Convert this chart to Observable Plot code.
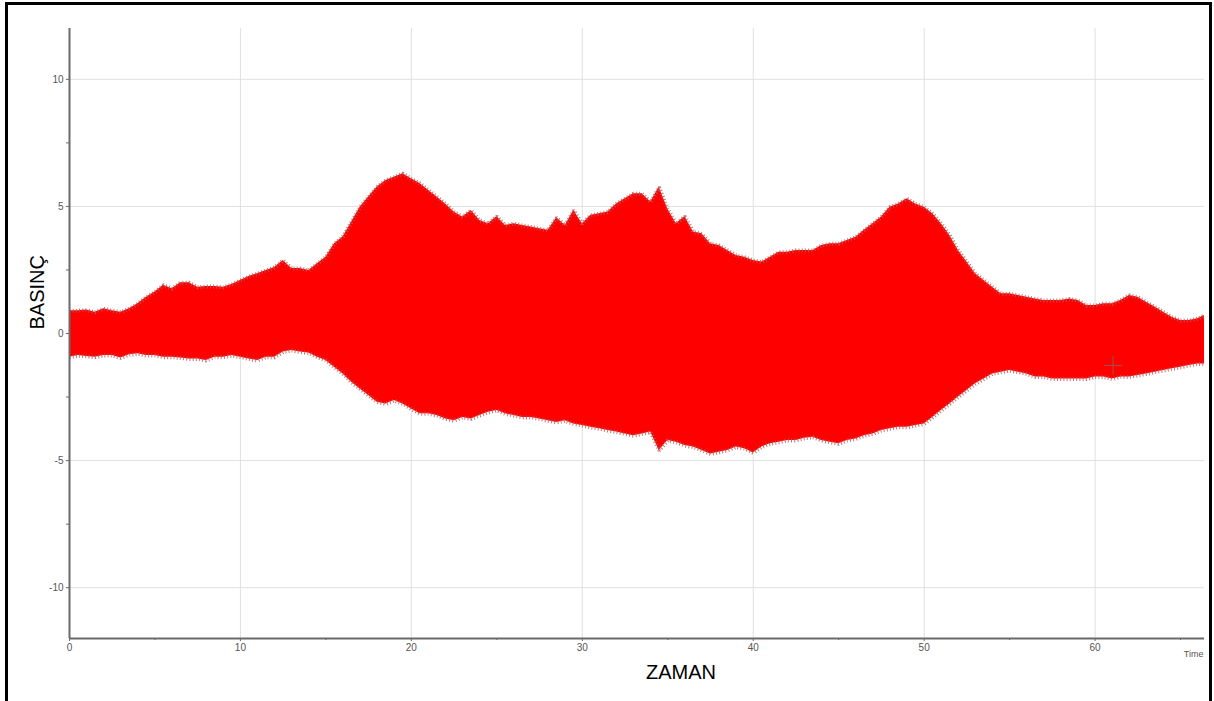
<!DOCTYPE html>
<html><head><meta charset="utf-8">
<script src="https://cdn.jsdelivr.net/npm/d3@7"></script>
<script src="https://cdn.jsdelivr.net/npm/@observablehq/plot@0.6"></script>
<style>
body{margin:0;background:#fff;width:1214px;height:701px;overflow:hidden;position:relative;font-family:"Liberation Sans",Arial,sans-serif}
#frame{position:absolute;left:5px;top:2px;width:1201px;height:760px;border:3px solid #000;border-bottom:none}
#chart{position:absolute;left:0;top:0}
</style></head><body><div id="frame"></div><div id="chart"></div>
<script>
// Time (s)
const times = [0,0.5,1,1.5,2,2.5,3,3.5,4,4.5,5,5.5,6,6.5,7,7.5,8,8.5,9,9.5,
10,10.5,11,11.5,12,12.5,13,13.5,14,14.5,15,15.5,16,16.5,17,17.5,18,18.5,19,19.5,
20,20.5,21,21.5,22,22.5,23,23.5,24,24.5,25,25.5,26,26.5,27,27.5,28,28.5,29,29.5,
30,30.5,31,31.5,32,32.5,33,33.5,34,34.5,35,35.5,36,36.5,37,37.5,38,38.5,39,39.5,
40,40.5,41,41.5,42,42.5,43,43.5,44,44.5,45,45.5,46,46.5,47,47.5,48,48.5,49,49.5,
50,50.5,51,51.5,52,52.5,53,53.5,54,54.5,55,55.5,56,56.5,57,57.5,58,58.5,59,59.5,
60,60.5,61,61.5,62,62.5,63,63.5,64,64.5,65,65.5,66,66.4];
// Upper envelope of pressure signal
const upper = [0.9,0.9,0.92,0.84,0.97,0.9,0.84,0.97,1.17,1.43,1.63,1.9,1.76,2.0,2.0,1.82,1.85,1.85,1.82,1.93,
2.09,2.24,2.35,2.48,2.6,2.87,2.56,2.56,2.48,2.74,3.0,3.53,3.8,4.38,4.97,5.37,5.76,6.02,6.15,6.29,
6.09,5.9,5.64,5.37,5.1,4.78,4.58,4.84,4.45,4.32,4.6,4.25,4.32,4.25,4.19,4.12,4.06,4.55,4.25,4.84,
4.32,4.65,4.71,4.78,5.1,5.3,5.5,5.5,5.17,5.75,4.9,4.32,4.6,3.99,3.92,3.53,3.46,3.27,3.07,3.0,
2.87,2.81,3.0,3.2,3.2,3.27,3.27,3.27,3.46,3.53,3.53,3.66,3.79,4.06,4.32,4.58,4.97,5.1,5.3,5.1,
4.97,4.71,4.32,3.86,3.27,2.81,2.35,2.09,1.82,1.56,1.56,1.5,1.43,1.36,1.3,1.3,1.3,1.36,1.3,1.1,
1.1,1.17,1.17,1.3,1.5,1.43,1.23,1.04,0.84,0.64,0.51,0.51,0.58,0.71];
// Lower envelope of pressure signal
const lower = [-0.93,-0.87,-0.9,-0.93,-0.87,-0.87,-0.96,-0.84,-0.8,-0.87,-0.87,-0.93,-0.93,-0.96,-1.0,-1.0,-1.06,-0.93,-0.93,-0.87,
-0.93,-1.0,-1.06,-0.93,-0.93,-0.73,-0.67,-0.73,-0.77,-0.93,-1.06,-1.33,-1.59,-1.92,-2.18,-2.44,-2.7,-2.77,-2.64,-2.77,
-2.97,-3.16,-3.16,-3.23,-3.36,-3.43,-3.3,-3.36,-3.23,-3.1,-3.03,-3.16,-3.23,-3.3,-3.3,-3.36,-3.43,-3.5,-3.43,-3.56,
-3.62,-3.69,-3.75,-3.82,-3.88,-3.95,-4.02,-3.95,-3.88,-4.6,-4.21,-4.28,-4.41,-4.47,-4.6,-4.74,-4.67,-4.6,-4.47,-4.53,
-4.7,-4.47,-4.34,-4.28,-4.21,-4.21,-4.12,-4.08,-4.21,-4.28,-4.34,-4.21,-4.15,-4.02,-3.95,-3.82,-3.75,-3.69,-3.69,-3.62,
-3.56,-3.3,-3.03,-2.77,-2.5,-2.24,-1.98,-1.79,-1.59,-1.52,-1.46,-1.52,-1.59,-1.71,-1.71,-1.79,-1.79,-1.79,-1.79,-1.79,
-1.71,-1.71,-1.79,-1.71,-1.71,-1.65,-1.59,-1.52,-1.46,-1.39,-1.33,-1.26,-1.2,-1.2];
const xTicks = [0,10,20,30,40,50,60];
const xMinor = [5,15,25,35,45,55,65];
const yTicks = [-10,-5,0,5,10];
const yMinor = [-7.5,-2.5,2.5,7.5];
const cursorT = [61.05];
const cursorV = [-1.26];

const rows = times.map((t,i)=>({t, hi:upper[i], lo:lower[i]}));
const cursor = cursorT.map((t,i)=>({t, v:cursorV[i]}));
const font = "Liberation Sans, Arial, sans-serif";
const edge = {stroke:"#b85a5a", strokeWidth:4, strokeOpacity:0.85, strokeDasharray:"1,2.2", strokeLinecap:"butt", strokeLinejoin:"miter"};

const chart = Plot.plot({
  width:1214, height:701,
  marginLeft:69, marginRight:10, marginTop:28, marginBottom:63,
  style:{fontFamily:font, fontSize:"10px", color:"#555", background:"transparent", overflow:"visible"},
  x:{domain:[0,66.4]},
  y:{domain:[-12,12]},
  marks:[
    Plot.gridX(xTicks.filter(d=>d>0), {stroke:"#e0e0e0", strokeOpacity:1, strokeWidth:1}),
    Plot.gridY(yTicks, {stroke:"#e0e0e0", strokeOpacity:1, strokeWidth:1}),
    Plot.areaY(rows, {x:"t", y1:"lo", y2:"hi", fill:"#fe0000"}),
    Plot.lineY(rows, {x:"t", y:"hi", ...edge}),
    Plot.lineY(rows, {x:"t", y:"lo", ...edge}),
    Plot.dot(cursor, {x:"t", y:"v", symbol:"plus", r:6, stroke:"#a05050", strokeWidth:1}),
    Plot.axisY(yTicks, {tickSize:3, tickPadding:3, tickFormat:d=>String(d), label:null, stroke:"#666", fill:"#555"}),
    Plot.axisY(yMinor, {tickSize:3, text:null, label:null, stroke:"#666"}),
    Plot.axisX(xTicks, {tickSize:3, tickPadding:2, tickFormat:d=>String(d), label:null, stroke:"#666", fill:"#555"}),
    Plot.axisX(xMinor, {tickSize:2, text:null, label:null, stroke:"#666"}),
    Plot.ruleX([0], {stroke:"#6a6a6a", strokeWidth:2}),
    Plot.ruleY([-12], {stroke:"#6a6a6a", strokeWidth:2}),
    Plot.text(["BASINÇ"], {text:d=>d, frameAnchor:"left", dx:-32, dy:-4, rotate:-90, fontSize:20, fill:"#000", fontFamily:font}),
    Plot.text(["ZAMAN"], {text:d=>d, frameAnchor:"bottom", dx:44, dy:40, fontSize:20, fill:"#000", fontFamily:font}),
    Plot.text(["Time"], {text:d=>d, frameAnchor:"bottom-right", dx:-1, dy:18, fontSize:9, fill:"#555"})
  ]
});
document.getElementById("chart").appendChild(chart);
</script></body></html>
